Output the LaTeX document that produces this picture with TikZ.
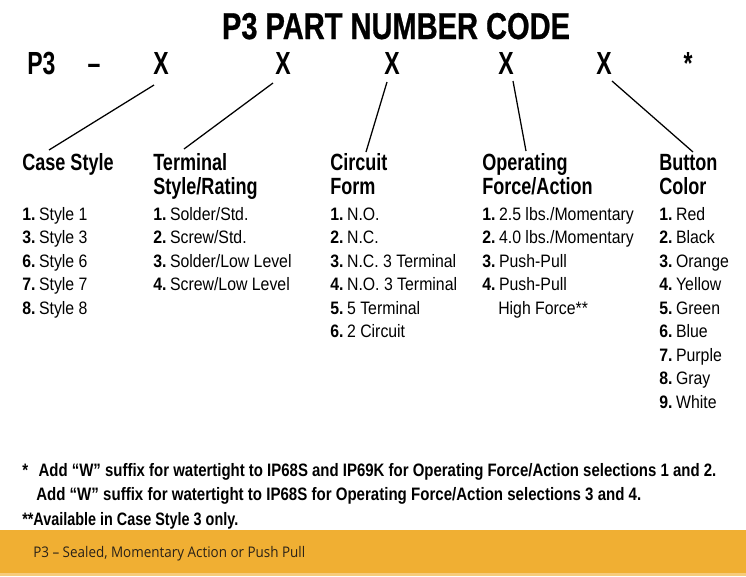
\documentclass[tikz,border=0pt]{standalone}
\usepackage{fontspec}
\usepackage{graphicx}
\setmainfont{Liberation Sans}
\newfontfamily\condf{Liberation Sans}[FakeStretch=0.88]
\newfontfamily\headf{Liberation Sans}[FakeStretch=0.77]
\newfontfamily\codef{Liberation Sans}[FakeStretch=0.72]
\newfontfamily\notef{Liberation Sans}[FakeStretch=0.85]
\newfontfamily\titlef{Liberation Sans}[FakeStretch=0.8,FakeBold=0.7]
\newfontfamily\footf{Open Sans}
\definecolor{bandorange}{HTML}{F0AF33}
\definecolor{bandlight}{HTML}{F6CB7C}
\definecolor{foottext}{HTML}{2A2218}
\newcommand{\numit}[2]{\textbf{#1.}\hspace{0.2em}#2}
\begin{document}
\begin{tikzpicture}[x=0.75pt,y=-0.75pt,
  itemtxt/.style={anchor=base west, inner sep=0pt, font=\condf\fontsize{13.5}{16}\selectfont},
  headtxt/.style={anchor=base west, inner sep=0pt, font=\headf\bfseries\fontsize{17.6}{21}\selectfont},
  codetxt/.style={anchor=base, inner sep=0pt, font=\codef\bfseries\fontsize{24}{28}\selectfont},
  notetxt/.style={anchor=base west, inner sep=0pt, font=\notef\bfseries\fontsize{13.5}{16}\selectfont},
  link/.style={line width=0.95pt, black}]
\useasboundingbox (0,0) rectangle (746,576);
\fill[white] (0,0) rectangle (746,576);
% title
\node[anchor=base, inner sep=0pt] (title) at (396,39)
  {\resizebox{261pt}{\height}{\titlef\bfseries\fontsize{28}{30}\selectfont P3 PART NUMBER CODE}};
% code row
\node[codetxt, anchor=base west] (p3) at (27,74) {P3};
\node[codetxt] (dash) at (94,74) {–};
\node[codetxt] (x1) at (161,74) {X};
\node[codetxt] (x2) at (283,74) {X};
\node[codetxt] (x3) at (392,74) {X};
\node[codetxt] (x4) at (506,74) {X};
\node[codetxt] (x5) at (604,74) {X};
\node[codetxt] (star) at (688,74) {*};
% headings
\node[headtxt] (hcs) at (22,170) {Case Style};
\node[headtxt] (hts) at (153,170) {Terminal};
\node[headtxt] (hts2) at (153,194) {Style/Rating};
\node[headtxt] (hcf) at (330,170) {Circuit};
\node[headtxt] (hcf2) at (330,194) {Form};
\node[headtxt] (hof) at (482,170) {Operating};
\node[headtxt] (hof2) at (482,194) {Force/Action};
\node[headtxt] (hbc) at (659,170) {Button};
\node[headtxt] (hbc2) at (659,194) {Color};
% connectors
\coordinate (a1) at (154,85);  \coordinate (b1) at (49,150);
\coordinate (a2) at (273,83);  \coordinate (b2) at (184,149);
\coordinate (a3) at (387,82);  \coordinate (b3) at (366,152);
\coordinate (a4) at (513,81);  \coordinate (b4) at (526,151);
\coordinate (a5) at (612,81);  \coordinate (b5) at (693,152);
\foreach \k in {1,...,5} \draw[link] (a\k) -- (b\k);
% lists
\foreach \n/\t [count=\i] in {1/{Style 1},3/{Style 3},6/{Style 6},7/{Style 7},8/{Style 8}}
  \node[itemtxt] (cs\i) at (22,{220+23.5*(\i-1)}) {\numit{\n}{\t}};
\foreach \n/\t [count=\i] in {1/{Solder/Std.},2/{Screw/Std.},3/{Solder/Low Level},4/{Screw/Low Level}}
  \node[itemtxt] (ts\i) at (153,{220+23.5*(\i-1)}) {\numit{\n}{\t}};
\foreach \n/\t [count=\i] in {1/{N.O.},2/{N.C.},3/{N.C. 3 Terminal},4/{N.O. 3 Terminal},5/{5 Terminal},6/{2 Circuit}}
  \node[itemtxt] (cf\i) at (330,{220+23.5*(\i-1)}) {\numit{\n}{\t}};
\foreach \n/\t [count=\i] in {1/{2.5 lbs./Momentary},2/{4.0 lbs./Momentary},3/{Push-Pull},4/{Push-Pull}}
  \node[itemtxt] (of\i) at (482,{220+23.5*(\i-1)}) {\numit{\n}{\t}};
\node[itemtxt] (of5) at (498,314) {High Force**};
\foreach \n/\t [count=\i] in {1/Red,2/Black,3/Orange,4/Yellow,5/Green,6/Blue,7/Purple,8/Gray,9/White}
  \node[itemtxt] (bc\i) at (659,{220+23.5*(\i-1)}) {\numit{\n}{\t}};
% notes
\node[notetxt] (n1) at (22,476) {\resizebox{520.5pt}{\height}{*\hspace{0.6em}Add “W” suffix for watertight to IP68S and IP69K for Operating Force/Action selections 1 and 2.}};
\node[notetxt] (n2) at (36,500.5) {\resizebox{453.75pt}{\height}{Add “W” suffix for watertight to IP68S for Operating Force/Action selections 3 and 4.}};
\node[notetxt] (n3) at (22,525) {\resizebox{162pt}{\height}{**Available in Case Style 3 only.}};
% band
\fill[bandorange] (0,530) rectangle (746,576);
\fill[bandlight] (0,573) rectangle (746,576);
\node[anchor=base west, inner sep=0pt, text=foottext] (band) at (33,557)
  {\resizebox{204pt}{\height}{\footf\fontsize{11}{13}\selectfont P3 – Sealed, Momentary Action or Push Pull}};
\end{tikzpicture}
\end{document}
